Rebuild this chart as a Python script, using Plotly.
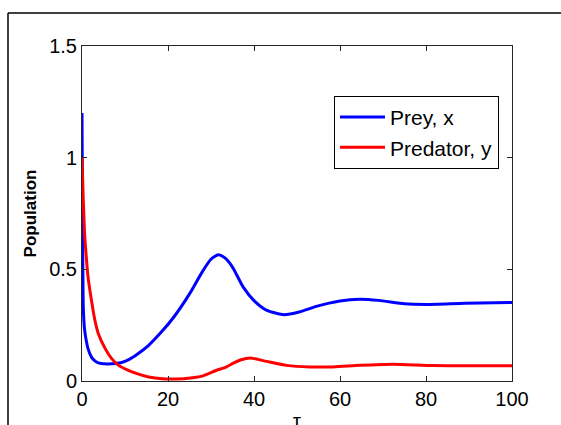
import plotly.graph_objects as go

# Prey, x
t_prey = [0, 0.1, 0.2, 0.3, 0.6, 1.0, 1.4, 2.2, 3.0, 4.0, 5.0, 7.0, 9.0, 11, 13, 15.5,
          18.5, 21.5, 25, 28, 30, 31.7, 33.3, 35, 37.5, 40, 43, 47, 50.5, 54.5, 60,
          64.5, 69, 75, 80, 89, 100]
x_prey = [1.20, 0.80, 0.50, 0.33, 0.23, 0.18, 0.145, 0.107, 0.09, 0.08, 0.077, 0.077,
          0.082, 0.097, 0.122, 0.16, 0.22, 0.29, 0.39, 0.49, 0.545, 0.565, 0.55, 0.51,
          0.42, 0.36, 0.316, 0.297, 0.309, 0.334, 0.358, 0.366, 0.361, 0.346, 0.343,
          0.348, 0.352]

# Predator, y
t_pred = [0, 0.3, 0.6, 1.0, 1.4, 2.2, 3.0, 3.8, 5.4, 6.9, 8.5, 10.8, 12.8, 15.5, 18.7,
          21.8, 25.7, 28, 31.3, 33.5, 35.2, 37, 39.1, 42.9, 47.6, 53, 58.4, 64.6, 72.4,
          81.7, 100]
y_pred = [1.0, 0.81, 0.66, 0.555, 0.466, 0.361, 0.272, 0.212, 0.145, 0.10, 0.07, 0.048,
          0.033, 0.018, 0.010, 0.009, 0.015, 0.022, 0.048, 0.062, 0.08, 0.095, 0.103,
          0.088, 0.070, 0.063, 0.063, 0.070, 0.075, 0.069, 0.068]

x_ticks = [0, 20, 40, 60, 80, 100]
y_ticks = [0, 0.5, 1, 1.5]
y_tick_labels = ["0", "0.5", "1", "1.5"]

FONT = "Arial, Liberation Sans, sans-serif"

fig = go.Figure()
fig.add_trace(go.Scatter(x=t_prey, y=x_prey, mode="lines", name="Prey, x",
                         line=dict(color="#0000FF", width=3, shape="spline", smoothing=0.6)))
fig.add_trace(go.Scatter(x=t_pred, y=y_pred, mode="lines", name="Predator, y",
                         line=dict(color="#FF0000", width=3, shape="spline", smoothing=0.6)))

axis_common = dict(showline=True, linecolor="#262626", linewidth=1, mirror="ticks",
                   ticks="inside", ticklen=5, tickcolor="#262626", showgrid=False,
                   zeroline=False, tickfont=dict(family=FONT, size=20, color="black"))

fig.update_layout(
    width=561, height=425,
    margin=dict(l=82, r=49, t=46, b=44),
    paper_bgcolor="white", plot_bgcolor="white",
    font=dict(family=FONT, color="black"),
    xaxis=dict(range=[0, 100], tickvals=x_ticks, **axis_common),
    yaxis=dict(range=[0, 1.5], tickvals=y_ticks, ticktext=y_tick_labels,
               title=dict(text="<b>Population</b>", font=dict(family=FONT, size=17),
                          standoff=8), **axis_common),
    legend=dict(x=0.586, y=0.851, xanchor="left", yanchor="top",
                bordercolor="black", borderwidth=1, bgcolor="white",
                font=dict(family=FONT, size=21), tracegroupgap=0, itemwidth=45),
    showlegend=True,
)

fig.add_annotation(text="τ", xref="paper", yref="paper", x=0.5, y=-0.118,
                   xanchor="center", yanchor="middle", showarrow=False,
                   font=dict(family=FONT, size=20, color="black"))

# outer figure frame (left and top edges visible)
fig.add_shape(type="line", xref="paper", yref="paper", x0=-0.1721, y0=-0.5,
              x1=-0.1721, y1=1.0985, line=dict(color="black", width=1.5))
fig.add_shape(type="line", xref="paper", yref="paper", x0=-0.1721, y0=1.0985,
              x1=1.3, y1=1.0985, line=dict(color="black", width=1.5))

fig.write_html("out.html", config={"displayModeBar": False},
               post_script="document.body.style.margin='0';document.body.style.overflow='hidden';")
